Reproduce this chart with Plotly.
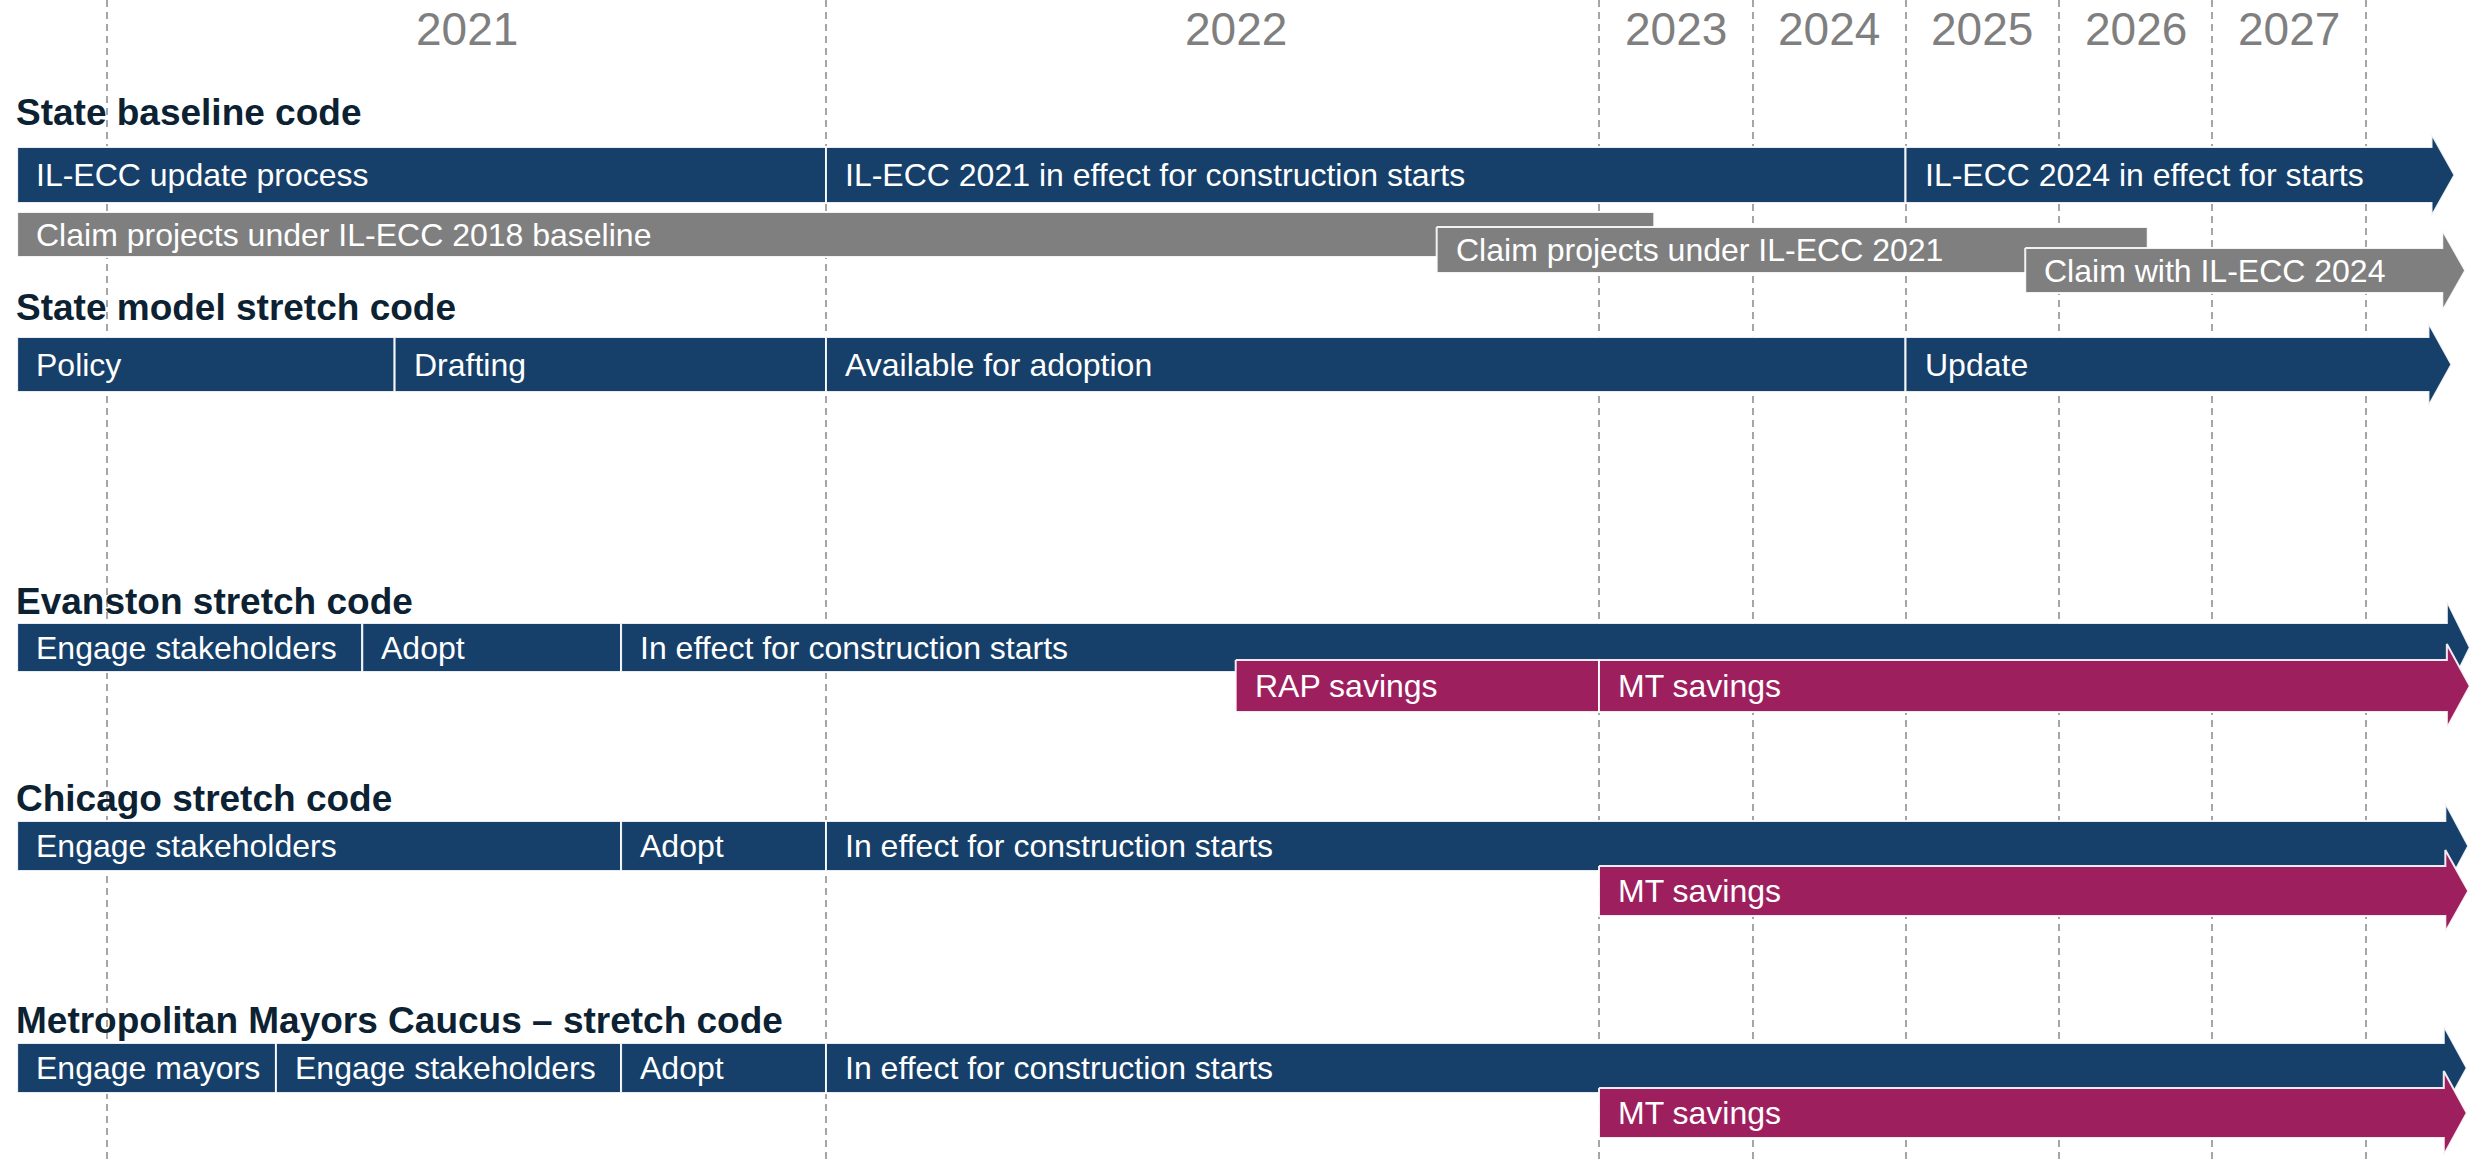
import numpy as np
import plotly.graph_objects as go

# ---------------- data ----------------
YEAR_LABELS = ["2021", "2022", "2023", "2024", "2025", "2026", "2027"]
YEAR_LABEL_AT = [2021.5, 2022.53, 2023.5, 2024.5, 2025.5, 2026.5, 2027.5]
GRID_YEARS = [2021, 2022, 2023, 2024, 2025, 2026, 2027, 2028]

SECTION_TITLES = [
    "State baseline code",
    "State model stretch code",
    "Evanston stretch code",
    "Chicago stretch code",
    "Metropolitan Mayors Caucus \u2013 stretch code",
]

BAR_LABELS = [
    "IL-ECC update process", "IL-ECC 2021 in effect for construction starts", "IL-ECC 2024 in effect for starts",
    "Claim projects under IL-ECC 2018 baseline", "Claim projects under IL-ECC 2021", "Claim with IL-ECC 2024",
    "Policy", "Drafting", "Available for adoption", "Update",
    "Engage stakeholders", "Adopt", "In effect for construction starts",
    "RAP savings", "MT savings",
    "Engage stakeholders", "Adopt", "In effect for construction starts",
    "MT savings",
    "Engage mayors", "Engage stakeholders", "Adopt", "In effect for construction starts",
    "MT savings",
]
BAR_START = [
    2020.875, 2022.0, 2025.0,
    2020.875, 2022.79, 2025.78,
    2020.875, 2021.4, 2022.0, 2025.0,
    2020.875, 2021.355, 2021.715,
    2022.53, 2023.0,
    2020.875, 2021.715, 2022.0,
    2023.0,
    2020.875, 2021.235, 2021.715, 2022.0,
    2023.0,
]
BAR_END = [
    2022.0, 2025.0, 2028.43,
    2023.36, 2026.58, 2028.50,
    2021.4, 2022.0, 2025.0, 2028.41,
    2021.355, 2021.715, 2028.53,
    2023.0, 2028.53,
    2021.715, 2022.0, 2028.52,
    2028.52,
    2021.235, 2021.715, 2022.0, 2028.51,
    2028.51,
]
BAR_LANE = [
    "sb", "sb", "sb",
    "c18", "c21", "c24",
    "sm", "sm", "sm", "sm",
    "ev", "ev", "ev",
    "evs", "evs",
    "ch", "ch", "ch",
    "chs",
    "mm", "mm", "mm", "mm",
    "mms",
]
BAR_KIND = [
    "code", "code", "code",
    "claim", "claim", "claim",
    "code", "code", "code", "code",
    "code", "code", "code",
    "savings", "savings",
    "code", "code", "code",
    "savings",
    "code", "code", "code", "code",
    "savings",
]
BAR_ARROW = [
    False, False, True,
    False, False, True,
    False, False, False, True,
    False, False, True,
    False, True,
    False, False, True,
    True,
    False, False, False, True,
    True,
]

# ---------------- layout / style ----------------
W, H = 2484, 1160
EDGE_YEARS = [2020, 2021, 2022, 2023, 2024, 2025, 2026, 2027, 2028, 2029]
EDGE_POS = [-612, 107, 826, 1599, 1752.5, 1905.5, 2059, 2212, 2365.5, 2519]


def tx(year):
    return np.interp(year, EDGE_YEARS, EDGE_POS)


# lane: (top, bottom, arrow-head overhang)
LANES = {
    "sb": (147, 203, 13),
    "c18": (212, 257, 0),
    "c21": (227, 273, 0),
    "c24": (248, 293, 18),
    "sm": (337, 392, 14),
    "ev": (623, 672, 22),
    "evs": (660, 712, 16),
    "ch": (821, 871, 18),
    "chs": (866, 916, 16),
    "mm": (1043, 1093, 17),
    "mms": (1088, 1138, 17),
}
SECTION_Y = [112, 307, 601, 798, 1020]
SECTION_X = 15
HEAD_LEN = 23
TEXT_PAD = 19

COLORS = {"code": "#16406A", "claim": "#7F7F7F", "savings": "#9E1F5E"}
TITLE_COLOR = "#0C2233"
YEAR_COLOR = "#7F7F7F"
FONT = "Liberation Sans, Arial, Helvetica, sans-serif"

fig = go.Figure()

for lab, s, e, lane, kind, arrow in zip(BAR_LABELS, BAR_START, BAR_END, BAR_LANE, BAR_KIND, BAR_ARROW):
    top, bot, ext = LANES[lane]
    x0, x1 = float(tx(s)), float(tx(e))
    mid = (top + bot) / 2
    if arrow:
        xs = [x0, x1, x1, x1 + HEAD_LEN, x1, x1, x0, x0]
        ys = [top, top, top - ext, mid, bot + ext, bot, bot, top]
    else:
        xs = [x0, x1, x1, x0, x0]
        ys = [top, top, bot, bot, top]
    fig.add_trace(go.Scatter(
        x=xs, y=ys, mode="lines", fill="toself",
        fillcolor=COLORS[kind],
        line=dict(color="rgba(255,255,255,0.9)", width=2),
        hoverinfo="skip", showlegend=False,
    ))

annotations = []
for lab, s, lane in zip(BAR_LABELS, BAR_START, BAR_LANE):
    top, bot, _ = LANES[lane]
    annotations.append(dict(
        x=float(tx(s)), y=(top + bot) / 2, xref="x", yref="y",
        text=lab, showarrow=False, xanchor="left", yanchor="middle",
        xshift=TEXT_PAD - 1, borderpad=0,
        font=dict(family=FONT, size=32, color="white"),
    ))

for t, yy in zip(SECTION_TITLES, SECTION_Y):
    annotations.append(dict(
        x=SECTION_X, y=yy, xref="x", yref="y", text="<b>" + t + "</b>",
        showarrow=False, xanchor="left", yanchor="middle", borderpad=0,
        font=dict(family=FONT, size=37, color=TITLE_COLOR),
    ))

for lab, at in zip(YEAR_LABELS, YEAR_LABEL_AT):
    annotations.append(dict(
        x=float(tx(at)), y=29, xref="x", yref="y", text=lab,
        showarrow=False, xanchor="center", yanchor="middle", borderpad=0,
        font=dict(family=FONT, size=46, color=YEAR_COLOR),
    ))

fig.update_layout(
    width=W, height=H,
    margin=dict(l=0, r=0, t=0, b=0),
    paper_bgcolor="white", plot_bgcolor="white",
    annotations=annotations,
    xaxis=dict(
        range=[0, W],
        tickvals=[float(v) for v in tx(GRID_YEARS)],
        showticklabels=False, ticks="", showgrid=True,
        gridcolor="#A6A6A6", gridwidth=1.5, griddash="7px,5px",
        zeroline=False, showline=False, fixedrange=True,
    ),
    yaxis=dict(
        range=[H, 0], showgrid=False,
        showticklabels=False, ticks="",
        zeroline=False, showline=False, fixedrange=True,
    ),
)

fig.write_html(
    "out.html",
    config={"displayModeBar": False},
    post_script="document.body.style.margin='0';document.body.style.overflow='hidden';",
)
